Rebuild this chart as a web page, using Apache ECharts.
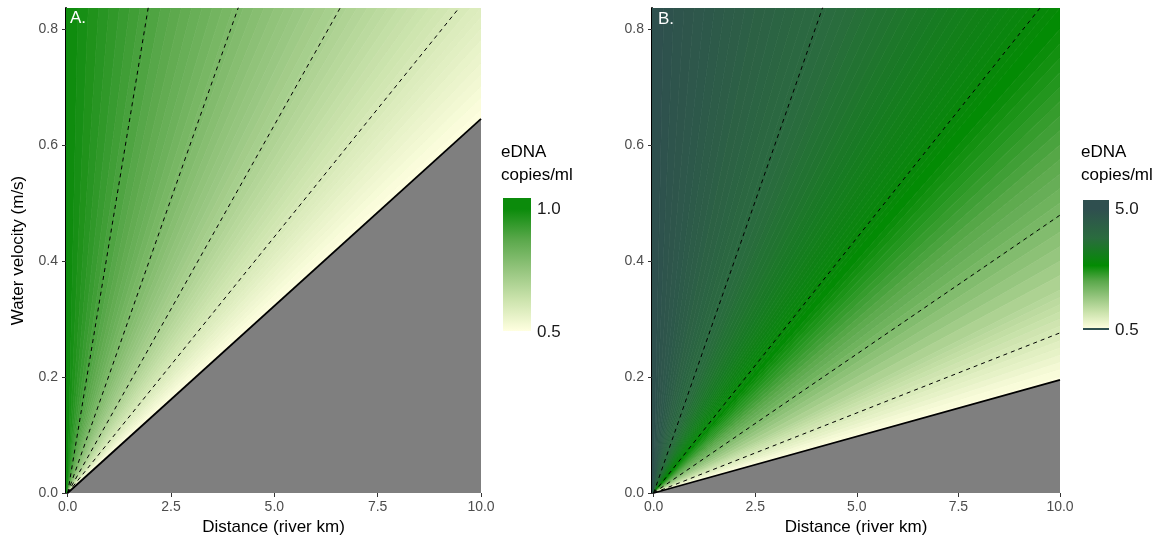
<!DOCTYPE html>
<html><head><meta charset="utf-8">
<script src="https://cdn.jsdelivr.net/npm/echarts@6/dist/echarts.min.js"></script>
<style>html,body{margin:0;padding:0;background:#fff}#c{width:1166px;height:535px}</style>
</head><body><div id="c"></div>
<script>
// ---------- data ----------
const xTicks = [0, 2.5, 5, 7.5, 10];
const yTicks = [0, 0.2, 0.4, 0.6, 0.8];
const legendTicksA = [0.5, 1.0];
const legendTicksB = [0.5, 5.0];

// concentration sampled along the top edge of each panel (velocity = topVelocity)
const topVelocity = 0.836;
const topX = [0,0.25,0.5,0.75,1,1.25,1.5,1.75,2,2.25,2.5,2.75,3,3.25,3.5,3.75,4,4.25,4.5,4.75,5,5.25,5.5,5.75,6,6.25,6.5,6.75,7,7.25,7.5,7.75,8,8.25,8.5,8.75,9,9.25,9.5,9.75,10];
const topValueA = [1.000,0.987,0.974,0.961,0.948,0.935,0.923,0.910,0.898,0.886,0.875,0.863,0.851,0.840,0.829,0.818,0.807,0.796,0.786,0.775,0.765,0.755,0.745,0.735,0.725,0.715,0.706,0.696,0.687,0.678,0.669,0.660,0.651,0.643,0.634,0.626,0.617,0.609,0.601,0.593,0.585];
const topValueB = [5.000,4.934,4.868,4.803,4.739,4.676,4.614,4.552,4.492,4.432,4.373,4.315,4.257,4.201,4.145,4.089,4.035,3.981,3.928,3.876,3.824,3.774,3.723,3.674,3.625,3.577,3.529,3.482,3.436,3.390,3.345,3.300,3.256,3.213,3.170,3.128,3.086,3.045,3.005,2.965,2.925];

// concentration sampled along the right edge (distance = 10 km)
const rightDistance = 10;
const rightYA = [0.82,0.80,0.78,0.76,0.74,0.72,0.70,0.68,0.66,0.645];
const rightValueA = [0.579,0.571,0.563,0.554,0.546,0.536,0.527,0.517,0.507,0.500];
const rightYB = [0.8,0.775,0.75,0.725,0.7,0.675,0.65,0.625,0.6,0.575,0.55,0.525,0.5,0.475,0.45,0.425,0.4,0.375,0.35,0.3375,0.325,0.3125,0.3,0.2875,0.275,0.2625,0.25,0.2375,0.225,0.2125,0.2,0.195];
const rightValueB = [2.852,2.801,2.748,2.692,2.633,2.571,2.506,2.438,2.366,2.290,2.210,2.126,2.037,1.943,1.843,1.738,1.627,1.510,1.386,1.322,1.256,1.188,1.119,1.049,0.977,0.904,0.830,0.755,0.680,0.604,0.530,0.500];

// dashed contour end points (all start at the origin)
const contourA = [[1.95,0.837],[4.13,0.837],[6.60,0.837],[9.48,0.837]];
const contourB = [[4.16,0.837],[9.52,0.837],[10,0.479],[10,0.276]];
// detection limit line end point (0.5 copies/ml)
const boundaryA = [10, 0.645];
const boundaryB = [10, 0.195];

// ---------- styling ----------
const X_MIN = -0.04, X_MAX = 10, Y_MAX = 0.836;
const stopsA = [[0.5,'#FFFFE0'],[0.625,'#CDE4AE'],[0.75,'#95C57E'],[0.875,'#5AA84B'],[1.0,'#0B8B0B']];
const stopsB = [[0.5,'#FFFFE0'],[1.1,'#CDE4AE'],[1.7,'#95C57E'],[2.3,'#5AA84B'],[2.88,'#038B03'],[3.9,'#2A6C3E'],[5.0,'#2F4F4F']];
const FONT = '"Liberation Sans", Arial, Helvetica, sans-serif';

function hex2rgb(h){return [parseInt(h.slice(1,3),16),parseInt(h.slice(3,5),16),parseInt(h.slice(5,7),16)];}
function colorAt(stops, v){
  if (v <= stops[0][0]) return stops[0][1];
  for (let i = 0; i < stops.length - 1; i++) {
    const a = stops[i], b = stops[i+1];
    if (v <= b[0]) {
      const t = (v - a[0]) / (b[0] - a[0]);
      const ca = hex2rgb(a[1]), cb = hex2rgb(b[1]);
      return 'rgb(' + ca.map((c, k) => Math.round(c + (cb[k] - c) * t)).join(',') + ')';
    }
  }
  return stops[stops.length-1][1];
}
function palette(stops, n){
  const lo = stops[0][0], hi = stops[stops.length-1][0], out = [];
  for (let i = 0; i < n; i++) out.push(colorAt(stops, lo + (hi - lo) * i / (n - 1)));
  return out;
}

function bands(topVals, rightY, rightVals){
  const pts = topX.map((x, i) => [x, topVelocity, topVals[i]])
    .concat(rightY.map((y, i) => [rightDistance, y, rightVals[i]]));
  const out = [];
  for (let i = 0; i < pts.length - 1; i++) {
    out.push([pts[i][0], pts[i][1], pts[i+1][0], pts[i+1][1], (pts[i][2] + pts[i+1][2]) / 2]);
  }
  return out;
}

function renderBand(params, api){
  const x1 = api.value(0), y1 = api.value(1), x2 = api.value(2), y2 = api.value(3);
  const o = api.coord([0, 0]);
  let pts;
  if (x1 === 0) pts = [api.coord([X_MIN, 0]), api.coord([X_MIN, y1]), api.coord([x2, y2]), o];
  else pts = [o, api.coord([x1, y1]), api.coord([x2, y2])];
  const c = api.visual('color');
  return {type: 'polygon', shape: {points: pts}, style: {fill: c, stroke: c, lineWidth: 0.7}};
}
function renderGray(params, api){
  const bx = api.value(0), by = api.value(1);
  return {type: 'polygon', shape: {points: [api.coord([0, 0]), api.coord([bx, by]), api.coord([bx, 0])]},
          style: {fill: '#7F7F7F'}};
}

const grids = [
  {left: 66, top: 8, width: 415, height: 485, containLabel: false, outerBoundsMode: 'none'},
  {left: 652, top: 8, width: 408, height: 485, containLabel: false, outerBoundsMode: 'none'}
];

function xAxis(i){
  return {
    type: 'value', gridIndex: i, min: X_MIN, max: X_MAX,
    name: 'Distance (river km)', nameLocation: 'middle', nameGap: 20,
    nameTextStyle: {fontSize: 17, color: '#000', fontFamily: FONT},
    axisLine: {show: false},
    axisTick: {show: true, length: 4, customValues: xTicks, lineStyle: {color: '#333', width: 1}},
    axisLabel: {customValues: xTicks, fontSize: 14, color: '#4D4D4D', fontFamily: FONT, margin: 7,
                formatter: v => v.toFixed(1)},
    splitLine: {show: false}
  };
}
function yAxis(i){
  return {
    type: 'value', gridIndex: i, min: 0, max: Y_MAX,
    name: i === 0 ? 'Water velocity (m/s)' : '', nameLocation: 'middle', nameGap: 39,
    nameTextStyle: {fontSize: 17, color: '#000', fontFamily: FONT},
    axisLine: {show: true, onZero: false, lineStyle: {color: '#000', width: 2}},
    axisTick: {show: true, length: 4, customValues: yTicks, lineStyle: {color: '#333', width: 1}},
    axisLabel: {customValues: yTicks, fontSize: 14, color: '#4D4D4D', fontFamily: FONT, margin: 8,
                formatter: v => v.toFixed(1)},
    splitLine: {show: false}
  };
}

const series = [];
const visualMaps = [];
function panel(i, topVals, rightY, rightVals, contours, boundary, stops){
  visualMaps.push({
    type: 'continuous', show: false, seriesIndex: series.length, dimension: 4,
    min: stops[0][0], max: stops[stops.length-1][0],
    inRange: {color: palette(stops, 80)}
  });
  series.push({
    type: 'custom', xAxisIndex: i, yAxisIndex: i, renderItem: renderBand, clip: true,
    encode: {x: [0, 2], y: [1, 3]}, data: bands(topVals, rightY, rightVals), z: 1, silent: true
  });
  series.push({
    type: 'custom', xAxisIndex: i, yAxisIndex: i, renderItem: renderGray, clip: true,
    encode: {x: 0, y: 1}, data: [boundary], z: 2, silent: true
  });
  contours.forEach(c => series.push({
    type: 'line', xAxisIndex: i, yAxisIndex: i, data: [[0, 0], c], symbol: 'none', z: 3,
    lineStyle: {color: '#000', width: 1, type: [4, 4]}, silent: true, animation: false
  }));
  series.push({
    type: 'line', xAxisIndex: i, yAxisIndex: i, data: [[0, 0], boundary], symbol: 'none', z: 4,
    lineStyle: {color: '#000', width: 1.8}, silent: true
  });
}
panel(0, topValueA, rightYA, rightValueA, contourA, boundaryA, stopsA);
panel(1, topValueB, rightYB, rightValueB, contourB, boundaryB, stopsB);

function legend(x, titleY, barTop, barBottom, barW, vLo, vHi, yLo, yHi, stops, ticks, bottomLine){
  const yOf = v => yLo - (v - vLo) / (vHi - vLo) * (yLo - yHi);
  const h = barBottom - barTop;
  const cs = [];
  cs.push({offset: 0, color: colorAt(stops, vLo + (vHi - vLo) * (yLo - barTop) / (yLo - yHi))});
  stops.slice().reverse().forEach(s => {
    const off = (yOf(s[0]) - barTop) / h;
    if (off > 0 && off < 1) cs.push({offset: off, color: s[1]});
  });
  cs.push({offset: 1, color: colorAt(stops, vLo + (vHi - vLo) * (yLo - barBottom) / (yLo - yHi))});
  const els = [
    {type: 'text', left: x - 2, top: titleY - 8, style: {text: 'eDNA', fontSize: 17, fill: '#000', fontFamily: FONT}},
    {type: 'text', left: x - 2, top: titleY + 15, style: {text: 'copies/ml', fontSize: 17, fill: '#000', fontFamily: FONT}},
    {type: 'rect', shape: {x: x, y: barTop, width: barW, height: h},
     style: {fill: {type: 'linear', x: 0, y: 0, x2: 0, y2: 1, colorStops: cs}}}
  ];
  ticks.forEach(t => els.push({type: 'text', x: x + barW + 6, y: yOf(t) + (t === vLo ? 1 : 0),
    style: {text: t.toFixed(1), fontSize: 17, fill: '#1A1A1A', fontFamily: FONT, verticalAlign: 'middle', align: 'left'}}));
  if (bottomLine) els.push({type: 'rect', shape: {x: x, y: barBottom - 1, width: barW, height: 2}, style: {fill: '#2F4F4F'}});
  return els;
}

const graphics = [
  {type: 'text', left: 70, top: 10, style: {text: 'A.', fontSize: 17, fill: '#fff', fontFamily: FONT}, z: 10},
  {type: 'text', left: 658, top: 11, style: {text: 'B.', fontSize: 17, fill: '#fff', fontFamily: FONT}, z: 10}
].concat(legend(503, 152, 198, 331, 28, 0.5, 1.0, 331, 209, stopsA, legendTicksA, false))
 .concat(legend(1083, 152, 200, 329, 26, 0.5, 5.0, 329, 209, stopsB, legendTicksB, true));

const chart = echarts.init(document.getElementById('c'), null, {renderer: 'canvas'});
chart.setOption({
  backgroundColor: '#fff',
  animation: false,
  grid: grids,
  xAxis: [xAxis(0), xAxis(1)],
  yAxis: [yAxis(0), yAxis(1)],
  visualMap: visualMaps,
  series: series,
  graphic: graphics
});
</script></body></html>
